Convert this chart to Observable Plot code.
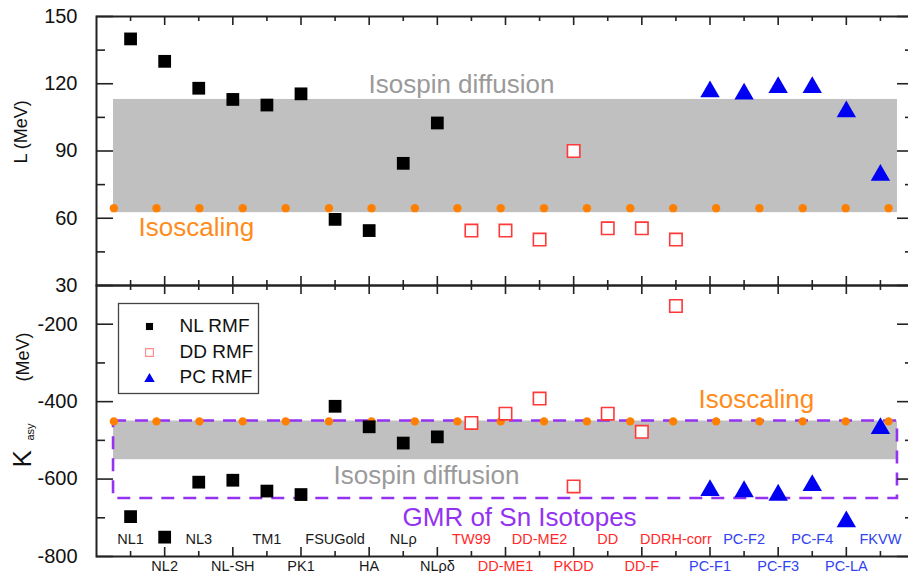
<!DOCTYPE html>
<html><head><meta charset="utf-8">
<script src="https://cdn.jsdelivr.net/npm/d3@7"></script>
<script src="https://cdn.jsdelivr.net/npm/@observablehq/plot@0.6"></script>
<style>
html,body{margin:0;padding:0;background:#fff;overflow:hidden;}
#wrap{position:relative;width:908px;height:573px;overflow:hidden;}
#wrap svg{position:absolute;left:0;max-width:none !important;overflow:visible !important;background:transparent !important;}
</style></head><body><div id="wrap"></div>
<script>
// ---- data ----
const models = ["NL1","NL2","NL3","NL-SH","TM1","PK1","FSUGold","HA","NLρ","NLρδ",
  "TW99","DD-ME1","DD-ME2","PKDD","DD","DD-F","DDRH-corr",
  "PC-F1","PC-F2","PC-F3","PC-F4","PC-LA","FKVW"];
const groups = ["NL","NL","NL","NL","NL","NL","NL","NL","NL","NL",
  "DD","DD","DD","DD","DD","DD","DD",
  "PC","PC","PC","PC","PC","PC"];
const L = [140,130,118,113,110.5,115.5,59.5,54.5,84.5,102.5,
  54.5,54.5,50.5,90,55.5,55.5,50.5,
  117.7,116.7,119.6,119.6,108.8,80.5];
const Kasy = [-697,-750,-608,-603,-631,-640,-412,-465,-507,-491,
  -455,-431,-392,-619,-431,-478,-153,
  -622,-625,-634,-609,-703,-462];
const isoX = [-0.49,0.76,2.02,3.29,4.55,5.82,7.07,8.34,9.59,10.86,12.13,13.39,14.66,15.92,17.18,18.45,19.72,20.98,22.24];
const isoL = 64.5, isoK = -451;
const diffusionL = [{x1:-0.5,x2:22.5,y1:62.5,y2:113}];
const diffusionK = [{x1:-0.5,x2:22.5,y1:-550,y2:-450}];
const gmrK = [{x1:-0.5,x2:22.5,y1:-650,y2:-450}];
const xMajor = [1,3,5,7,9,11,13,15,17,19,21];
const xMinor = [0,2,4,6,8,10,12,14,16,18,20,22];
const topTicks = [30,60,90,120,150], topMinor = [45,75,105,135];
const botTicks = [-800,-600,-400,-200], botMinor = [-700,-500,-300];
const legendLabels = ["NL RMF","DD RMF","PC RMF"];

const rows = models.map((m,i)=>({model:m, group:groups[i], idx:i, L:L[i], K:Kasy[i]}));
const iso = isoX.map(x=>({x}));

// ---- style ----
const FONT = "Liberation Sans, Arial, sans-serif";
const C = {NL:"#000000", DD:"#ff3838", PC:"#0000f2"};
const LABC = {NL:"#1a1a1a", DD:"#ff2a2a", PC:"#3142f0"};
const PURPLE = "#9432f2", ORANGE = "#ff8000", ORTXT = "#ff8c1a", GRAYTXT = "#9a9a9a";
const tri = {draw(ctx, size){ const s=Math.sqrt(4*size/Math.sqrt(3)); const h=s*Math.sqrt(3)/2;
  ctx.moveTo(0,-h/2); ctx.lineTo(s/2,h/2); ctx.lineTo(-s/2,h/2); ctx.closePath(); }};

const W = 914, ML = 96;
const plotW = W - ML;
const LA = {lineAnchor: "middle"};

function tickMarks(plotH, yMaj, yMin){
  const s = {stroke:"#222", strokeWidth:1.6};
  return [
    Plot.tickY(yMaj, {y:d=>d, insetRight:plotW-17, ...s}),
    Plot.tickY(yMin, {y:d=>d, insetRight:plotW-9, ...s}),
    Plot.tickY(yMaj, {y:d=>d, insetLeft:plotW-17, ...s}),
    Plot.tickY(yMin, {y:d=>d, insetLeft:plotW-9, ...s}),
    Plot.tickX(xMajor, {x:d=>d, insetBottom:plotH-9, ...s}),
    Plot.tickX(xMinor, {x:d=>d, insetBottom:plotH-5, ...s}),
    Plot.tickX(xMajor, {x:d=>d, insetTop:plotH-9, ...s}),
    Plot.tickX(xMinor, {x:d=>d, insetTop:plotH-5, ...s})
  ];
}
function pointMarks(yKey){
  return [
    Plot.dot(rows.filter(d=>d.group==="NL"), {x:"idx", y:yKey, symbol:"square", r:7.2, fill:C.NL}),
    Plot.dot(rows.filter(d=>d.group==="DD"), {x:"idx", y:yKey, symbol:"square", r:7.0, fill:"#fff", stroke:C.DD, strokeWidth:1.6}),
    Plot.dot(rows.filter(d=>d.group==="PC"), {x:"idx", y:yKey, symbol:tri, r:7.2, fill:C.PC})
  ];
}

// ---- top panel: L ----
const topH = 285, topMT = 16;
const topPlot = Plot.plot({
  width: W, height: topH, marginLeft: ML, marginRight: 0, marginTop: topMT, marginBottom: 0,
  style: {fontFamily: FONT, background: "transparent"},
  x: {domain: [-1, 23], axis: null},
  y: {domain: [30, 150], axis: null},
  marks: [
    Plot.rect(diffusionL, {x1:"x1", x2:"x2", y1:"y1", y2:"y2", fill:"#c0c0c0"}),
    Plot.dot(iso, {x:"x", y:()=>isoL, r:4.2, fill:ORANGE}),
    ...pointMarks("L"),
    Plot.text(["Isospin diffusion"], {text:d=>d, frameAnchor:"top-left", dx:272, dy:68, textAnchor:"start", fontSize:26, fill:GRAYTXT, ...LA}),
    Plot.text(["Isoscaling"], {text:d=>d, frameAnchor:"top-left", dx:42, dy:211, textAnchor:"start", fontSize:26, fill:ORTXT, ...LA}),
    ...tickMarks(topH - topMT, topTicks, topMinor),
    Plot.frame({stroke:"#222", strokeWidth:2}),
    Plot.text(topTicks, {y:d=>d, text:d=>String(d), frameAnchor:"left", dx:-19, textAnchor:"end", fontSize:20, fill:"#111", ...LA}),
    Plot.text(["L (MeV)"], {text:d=>d, frameAnchor:"top-left", dx:-75, dy:147, rotate:-90, fontSize:18, fill:"#111", ...LA})
  ]
});
topPlot.style.top = "0px";

// ---- bottom panel: K_asy ----
const botH = 288, botMB = 17;
const botPlotH = botH - botMB;
const legendRowDy = [41, 67, 92];
const bottomPlot = Plot.plot({
  width: W, height: botH, marginLeft: ML, marginRight: 0, marginTop: 0, marginBottom: botMB,
  style: {fontFamily: FONT, background: "transparent"},
  x: {domain: [-1, 23], axis: null},
  y: {domain: [-800, -100], axis: null},
  marks: [
    Plot.rect(diffusionK, {x1:"x1", x2:"x2", y1:"y1", y2:"y2", fill:"#c0c0c0"}),
    Plot.rect(gmrK, {x1:"x1", x2:"x2", y1:"y1", y2:"y2", fill:"none", stroke:PURPLE, strokeWidth:2.6, strokeDasharray:"13,9"}),
    Plot.dot(iso, {x:"x", y:()=>isoK, r:4.2, fill:ORANGE}),
    ...pointMarks("K"),
    Plot.text(["Isoscaling"], {text:d=>d, frameAnchor:"top-left", dx:602, dy:114, textAnchor:"start", fontSize:26, fill:ORTXT, ...LA}),
    Plot.text(["Isospin diffusion"], {text:d=>d, frameAnchor:"top-left", dx:237, dy:190, textAnchor:"start", fontSize:26, fill:GRAYTXT, ...LA}),
    Plot.text(["GMR of Sn Isotopes"], {text:d=>d, frameAnchor:"top-left", dx:306, dy:232, textAnchor:"start", fontSize:26, fill:PURPLE, ...LA}),
    // category labels
    ...["NL","DD","PC"].flatMap(g => [
      Plot.text(rows.filter(d=>d.group===g && d.idx%2===0), {x:"idx", text:"model", frameAnchor:"bottom", dy:-17, fontSize:14.5, fill:LABC[g], ...LA}),
      Plot.text(rows.filter(d=>d.group===g && d.idx%2===1), {x:"idx", text:"model", frameAnchor:"bottom", dy:10, fontSize:14.5, fill:LABC[g], ...LA})
    ]),
    // legend
    Plot.frame({insetLeft:22, insetTop:18, insetRight:656, insetBottom:163, stroke:"#444", strokeWidth:1.3, fill:"#fff"}),
    Plot.dot([0], {frameAnchor:"top-left", dx:53, dy:legendRowDy[0], symbol:"square", r:4, fill:C.NL}),
    Plot.dot([0], {frameAnchor:"top-left", dx:53, dy:legendRowDy[1], symbol:"square", r:4.4, fill:"#fff", stroke:"#ff8a8a", strokeWidth:1.1}),
    Plot.dot([0], {frameAnchor:"top-left", dx:53, dy:legendRowDy[2], symbol:tri, r:3.9, fill:C.PC}),
    ...legendLabels.map((t,i)=>Plot.text([t], {text:d=>d, frameAnchor:"top-left", dx:83, dy:legendRowDy[i]-1, textAnchor:"start", fontSize:19, fill:"#111", ...LA})),
    ...tickMarks(botPlotH, botTicks, botMinor),
    Plot.frame({stroke:"#222", strokeWidth:2}),
    Plot.text(botTicks, {y:d=>d, text:d=>String(d), frameAnchor:"left", dx:-19, textAnchor:"end", fontSize:20, fill:"#111", ...LA}),
    Plot.text(["K"], {text:d=>d, frameAnchor:"top-left", dx:-74, dy:182, rotate:-90, fontSize:26, fill:"#111", ...LA}),
    Plot.text(["asy"], {text:d=>d, frameAnchor:"top-left", dx:-66, dy:155, rotate:-90, fontSize:11, fill:"#111", ...LA}),
    Plot.text(["(MeV)"], {text:d=>d, frameAnchor:"top-left", dx:-73, dy:96, rotate:-90, fontSize:18, fill:"#111", ...LA})
  ]
});
bottomPlot.style.top = "285px";

const wrap = document.getElementById("wrap");
wrap.appendChild(topPlot);
wrap.appendChild(bottomPlot);
</script></body></html>
